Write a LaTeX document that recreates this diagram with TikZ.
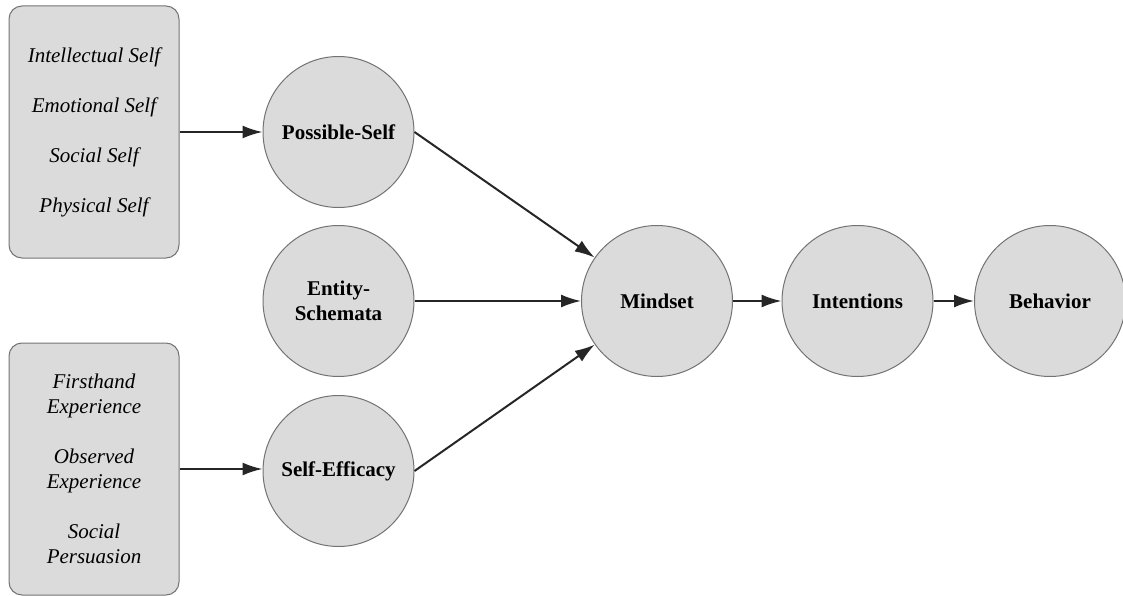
\documentclass[tikz,border=0pt]{standalone}
\usepackage{fontspec}
\setmainfont{Liberation Serif}
\usetikzlibrary{arrows.meta}

\begin{document}
\begin{tikzpicture}[
  x=1pt, y=-1pt,
  source/.style={draw=black!55, fill=black!14, rounded corners=13pt, line width=1pt,
  minimum width=170pt, minimum height=252pt, align=center, inner sep=0pt},
  construct/.style={draw=black!55, fill=black!14, circle, line width=1pt,
  minimum size=151pt, inner sep=0pt, align=center, font=\bfseries\fontsize{21}{25}\selectfont},
  link/.style={draw=black!85, -{Latex[length=20pt,width=13pt]}, line width=2pt}
]
\useasboundingbox (0,0) rectangle (1123,596);

\node[source, font=\itshape\fontsize{21}{50}\selectfont] (selves) at (94,132)
  {Intellectual Self \\ Emotional Self \\ Social Self \\ Physical Self};
\node[source, font=\itshape\fontsize{21}{25}\selectfont] (sources) at (94,469)
  {Firsthand \\ Experience \\[25pt] Observed \\ Experience \\[25pt] Social \\ Persuasion};

\node[construct] (possible) at (338.5,132) {Possible-Self};
\node[construct] (entity) at (338.5,301) {Entity-\\Schemata};
\node[construct] (efficacy) at (338.5,471) {Self-Efficacy};
\node[construct] (mindset) at (657,301) {Mindset};
\node[construct] (intentions) at (857.5,301) {Intentions};
\node[construct] (behavior) at (1050,301) {Behavior};

\draw[link] (selves) -- (possible);
\draw[link] (sources) -- (sources -| efficacy.west);
\draw[link] (possible.east) -- (mindset);
\draw[link] (entity) -- (mindset);
\draw[link] (efficacy.east) -- (mindset);
\draw[link] (mindset) -- (intentions);
\draw[link] (intentions) -- (behavior);

\end{tikzpicture}
\end{document}
